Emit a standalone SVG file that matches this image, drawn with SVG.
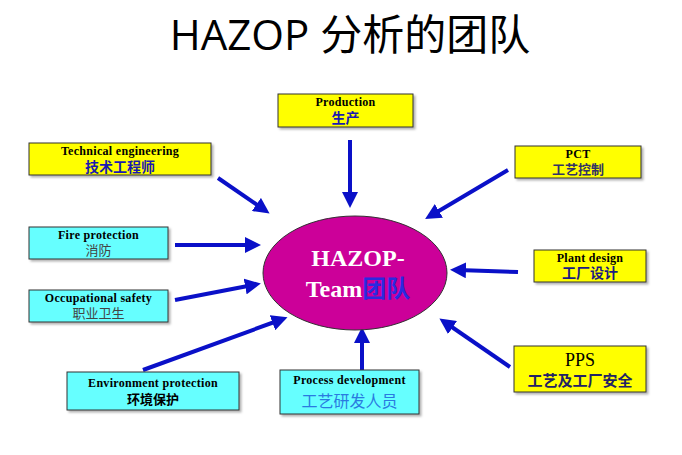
<svg xmlns="http://www.w3.org/2000/svg" width="682" height="455" viewBox="0 0 682 455">
<defs>
<marker id="ah" markerWidth="4" markerHeight="4" refX="2" refY="2" orient="auto" markerUnits="strokeWidth">
<path d="M0,0 L4,2 L0,4 Z" fill="#0A10C8"/>
</marker>
<filter id="sh" x="-5%" y="-10%" width="115%" height="130%">
<feDropShadow dx="2" dy="2" stdDeviation="1" flood-color="#000" flood-opacity="0.3"/>
</filter>
</defs>
<style>
.y{fill:#FFFF00;stroke:#333;stroke-width:1;filter:url(#sh)}
.c{fill:#66FFFF;stroke:#333;stroke-width:1;filter:url(#sh)}
.en{font-family:"Liberation Serif",serif;font-weight:bold;font-size:12px;letter-spacing:0.3px;fill:#000;text-anchor:middle}
.zh{font-family:"Liberation Serif","Noto Sans CJK SC",serif;font-size:13px;text-anchor:middle}
.b{fill:#1A1AB0;font-weight:bold;font-size:14px}
.g{fill:#444}
.a{stroke:#0A10C8;stroke-width:4;fill:none;marker-end:url(#ah)}
</style>
<rect width="682" height="455" fill="#fff"/>
<text x="350" y="50" font-family="'Open Sans','Noto Sans CJK SC',sans-serif" font-size="42" text-anchor="middle" fill="#000">HAZOP 分析的团队</text>

<g id="connectors">
<line class="a" x1="350" y1="140" x2="350" y2="200"/>
<line class="a" x1="218" y1="178" x2="263" y2="209"/>
<line class="a" x1="508" y1="170" x2="432" y2="215"/>
<line class="a" x1="175" y1="245" x2="253" y2="245"/>
<line class="a" x1="175" y1="300" x2="253" y2="285"/>
<line class="a" x1="518" y1="272" x2="458" y2="270"/>
<line class="a" x1="510" y1="367" x2="446" y2="323"/>
<line class="a" x1="143" y1="370" x2="280" y2="320"/>
<line class="a" x1="362" y1="370" x2="362" y2="335"/>
</g>

<g id="center">
<ellipse cx="355" cy="273" rx="92" ry="57" fill="#CC0099" stroke="#333" stroke-width="1"/>
<text x="358" y="266" font-family="'Liberation Serif',serif" font-weight="bold" font-size="24" fill="#fff" text-anchor="middle">HAZOP-</text>
<text x="358" y="297" font-family="'Liberation Serif','Noto Sans CJK SC',serif" font-weight="bold" font-size="24" fill="#fff" text-anchor="middle">Team<tspan fill="#2A2AE0">团队</tspan></text>
</g>

<g id="production">
<rect class="y" x="278" y="94" width="135" height="33"/>
<text class="en" x="345.5" y="106">Production</text>
<text class="zh b" x="345.5" y="123">生产</text>
</g>
<g id="technical">
<rect class="y" x="29" y="143" width="182" height="32"/>
<text class="en" x="120" y="155">Technical engineering</text>
<text class="zh b" x="120" y="172">技术工程师</text>
</g>
<g id="pct">
<rect class="y" x="515" y="146" width="126" height="32"/>
<text class="en" x="578" y="158">PCT</text>
<text class="zh b" x="578" y="174" style="fill:#333366;font-size:13px">工艺控制</text>
</g>
<g id="fire">
<rect class="c" x="29" y="227" width="139" height="32"/>
<text class="en" x="98.5" y="239">Fire protection</text>
<text class="zh g" x="98.5" y="255">消防</text>
</g>
<g id="occupational">
<rect class="c" x="29" y="290" width="139" height="32"/>
<text class="en" x="98.5" y="302">Occupational safety</text>
<text class="zh g" x="98.5" y="318">职业卫生</text>
</g>
<g id="plant">
<rect class="y" x="534" y="250" width="112" height="32"/>
<text class="en" x="590" y="262">Plant design</text>
<text class="zh b" x="590" y="278" style="fill:#1A1A80">工厂设计</text>
</g>
<g id="pps">
<rect class="y" x="514" y="346" width="132" height="46"/>
<text class="en" x="580" y="366" style="font-size:18px;font-weight:normal;letter-spacing:0">PPS</text>
<text class="zh b" x="580" y="386" style="font-size:15px;fill:#222266">工艺及工厂安全</text>
</g>
<g id="environment">
<rect class="c" x="67" y="372" width="172" height="38"/>
<text class="en" x="153" y="387">Environment protection</text>
<text class="zh" x="153" y="404" style="font-weight:bold;fill:#000">环境保护</text>
</g>
<g id="process">
<rect class="c" x="280" y="370" width="139" height="44"/>
<text class="en" x="349.5" y="384">Process development</text>
<text class="zh" x="349.5" y="407" style="font-size:16px;fill:#2A7AE0">工艺研发人员</text>
</g>
</svg>
